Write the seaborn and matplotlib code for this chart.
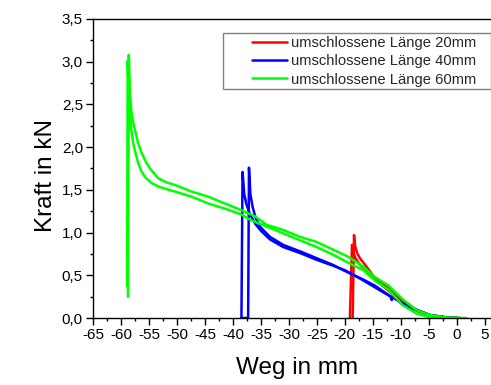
import numpy as np
import pandas as pd
import matplotlib
matplotlib.use("Agg")
import matplotlib.pyplot as plt
from matplotlib.ticker import MultipleLocator, FuncFormatter
from matplotlib.legend_handler import HandlerLine2D
from matplotlib.patches import Rectangle
import seaborn as sns

# ---------------- data ----------------
series_labels = ["umschlossene Länge 20mm", "umschlossene Länge 40mm", "umschlossene Länge 60mm"]
series_colors = ["#ff0000", "#0000ff", "#00ff00"]

red1_x = [-19.1, -18.72, -18.45, -18.1, -17.5, -16.0, -14.66, -13.5, -12.2, -9.65, -7.15, -4.77, -1.78, 0.2]
red1_y = [0.0, 0.855, 0.76, 0.70, 0.64, 0.54, 0.44, 0.39, 0.32, 0.18, 0.085, 0.03, 0.004, 0.0]
red2_x = [-18.6, -18.36, -18.15, -17.8, -17.3, -16.0, -14.66, -13.5, -12.2, -9.65, -7.15, -4.77, -1.78, 0.5]
red2_y = [0.0, 0.97, 0.84, 0.76, 0.70, 0.59, 0.47, 0.41, 0.35, 0.20, 0.095, 0.035, 0.005, 0.0]

blue1_x = [-38.5, -38.3, -38.0, -37.6, -37.0, -36.0, -35.0, -33.4, -31.0, -28.0, -25.0, -22.0, -20.0,
           -16.7, -14.66, -11.8, -11.62, -11.4, -9.65, -7.15, -4.77, -1.78, 0.0]
blue1_y = [0.0, 1.71, 1.45, 1.33, 1.22, 1.10, 1.02, 0.92, 0.83, 0.76, 0.68, 0.61, 0.56,
           0.44, 0.36, 0.25, 0.21, 0.25, 0.16, 0.09, 0.03, 0.005, 0.0]
blue2_x = [-38.5, -37.3, -37.15, -36.9, -36.5, -36.0, -35.2, -33.4, -31.0, -28.0, -25.04, -22.07, -20.3,
           -16.7, -14.66, -12.2, -9.65, -7.15, -4.77, -1.78, 0.3]
blue2_y = [0.0, 0.0, 1.76, 1.45, 1.30, 1.18, 1.07, 0.95, 0.855, 0.78, 0.70, 0.62, 0.56,
           0.45, 0.38, 0.27, 0.17, 0.095, 0.035, 0.008, 0.0]

green1_x = [-58.8, -58.65, -58.45, -58.2, -57.9, -57.54, -57.0, -56.34, -55.6, -54.86, -54.1, -53.37,
            -52.0, -50.38, -47.4, -44.43, -41.44, -38.45, -36.07, -33.98, -31.0, -28.02, -25.04,
            -22.07, -19.5, -16.7, -14.66, -12.2, -9.65, -7.15, -4.77, -1.78, 0.5, 1.8]
green1_y = [0.25, 3.08, 2.65, 2.42, 2.30, 2.20, 2.05, 1.93, 1.83, 1.75, 1.69, 1.635,
            1.59, 1.557, 1.48, 1.42, 1.34, 1.26, 1.19, 1.09, 1.03, 0.95, 0.89,
            0.80, 0.72, 0.60, 0.48, 0.38, 0.22, 0.09, 0.035, 0.005, 0.0, 0.0]
green2_x = [-58.95, -58.85, -58.6, -58.3, -57.84, -57.4, -56.95, -56.4, -55.75, -54.6, -53.37, -52.0,
            -50.38, -47.4, -44.43, -41.44, -38.45, -36.97, -33.98, -31.0, -28.02, -25.04, -22.07,
            -19.5, -16.7, -14.66, -12.2, -9.65, -7.15, -4.77, -1.78, 1.0]
green2_y = [0.37, 3.01, 2.5, 2.25, 2.04, 1.92, 1.81, 1.72, 1.65, 1.58, 1.54, 1.51,
            1.48, 1.42, 1.34, 1.28, 1.21, 1.15, 1.07, 0.99, 0.91, 0.83, 0.74,
            0.65, 0.56, 0.44, 0.33, 0.15, 0.05, 0.01, 0.003, 0.0]

x_ticks = list(range(-65, 6, 5))
y_ticks = [0.0, 0.5, 1.0, 1.5, 2.0, 2.5, 3.0, 3.5]

# ---------------- build long table ----------------
curves = [
    (series_labels[0], "r1", red1_x, red1_y),
    (series_labels[0], "r2", red2_x, red2_y),
    (series_labels[1], "b1", blue1_x, blue1_y),
    (series_labels[1], "b2", blue2_x, blue2_y),
    (series_labels[2], "g1", green1_x, green1_y),
    (series_labels[2], "g2", green2_x, green2_y),
]
frames = []
for lab, cid, xs, ys in curves:
    frames.append(pd.DataFrame({"Weg": xs, "Kraft": ys, "Serie": lab, "Kurve": cid}))
df = pd.concat(frames, ignore_index=True)

# ---------------- plotting ----------------
sns.set_theme(style="ticks")
plt.rcParams["font.family"] = ["Liberation Sans", "DejaVu Sans"]
plt.rcParams["axes.unicode_minus"] = False

fig = plt.figure(figsize=(4.91, 3.85), dpi=100)
ax = fig.add_axes([93.3 / 491, 67 / 385, 398 / 491, 299 / 385])

sns.lineplot(data=df, x="Weg", y="Kraft", hue="Serie", units="Kurve", estimator=None,
             sort=False, palette=dict(zip(series_labels, series_colors)),
             hue_order=series_labels, linewidth=1.8, ax=ax, legend=True)

ax.set_xlim(-65, 6.2)
ax.set_ylim(0, 3.5)
ax.set_xticks(x_ticks)
ax.set_yticks(y_ticks)
ax.xaxis.set_minor_locator(MultipleLocator(2.5))
ax.yaxis.set_minor_locator(MultipleLocator(0.25))
ax.xaxis.set_major_formatter(FuncFormatter(lambda v, p: f"{int(round(v))}"))
ax.yaxis.set_major_formatter(FuncFormatter(lambda v, p: f"{v:.1f}".replace(".", ",")))
ax.tick_params(which="major", direction="out", length=5, width=1, color="black",
               labelsize=11, labelcolor="black", pad=2.5)
ax.tick_params(which="minor", direction="out", length=2.5, width=1, color="black")
for s in ["left", "bottom", "top"]:
    ax.spines[s].set_visible(True)
    ax.spines[s].set_color("black")
    ax.spines[s].set_linewidth(1.0)
ax.spines["right"].set_visible(False)

ax.set_xlabel("Weg in mm", fontsize=17.5, color="black")
ax.set_ylabel("Kraft in kN", fontsize=17.5, color="black")
ax.xaxis.set_label_coords(0.511, -0.130)
ax.yaxis.set_label_coords(-0.091, 0.478)


class OffsetLineHandler(HandlerLine2D):
    def get_xdata(self, legend, xdescent, ydescent, width, height, fontsize):
        xd = np.array([-xdescent + width * 0.43, -xdescent + width])
        return xd, xd


handles, labels = ax.get_legend_handles_labels()
for h in handles:
    h.set_linewidth(1.8)
leg = ax.legend(handles, labels, loc="upper right", bbox_to_anchor=(0.968, 0.953),
                fontsize=10.6, frameon=False, borderpad=0.18, labelspacing=0.3,
                handlelength=4.15, handletextpad=0.27, borderaxespad=0,
                handler_map={h: OffsetLineHandler() for h in handles})

fig.canvas.draw()
bb = leg.get_window_extent()
rect = Rectangle((bb.x0, bb.y0), bb.width + 12, bb.height, transform=None, fill=False,
                 edgecolor="#808080", linewidth=1.0)
fig.add_artist(rect)

fig.savefig("out.png", dpi=100)
